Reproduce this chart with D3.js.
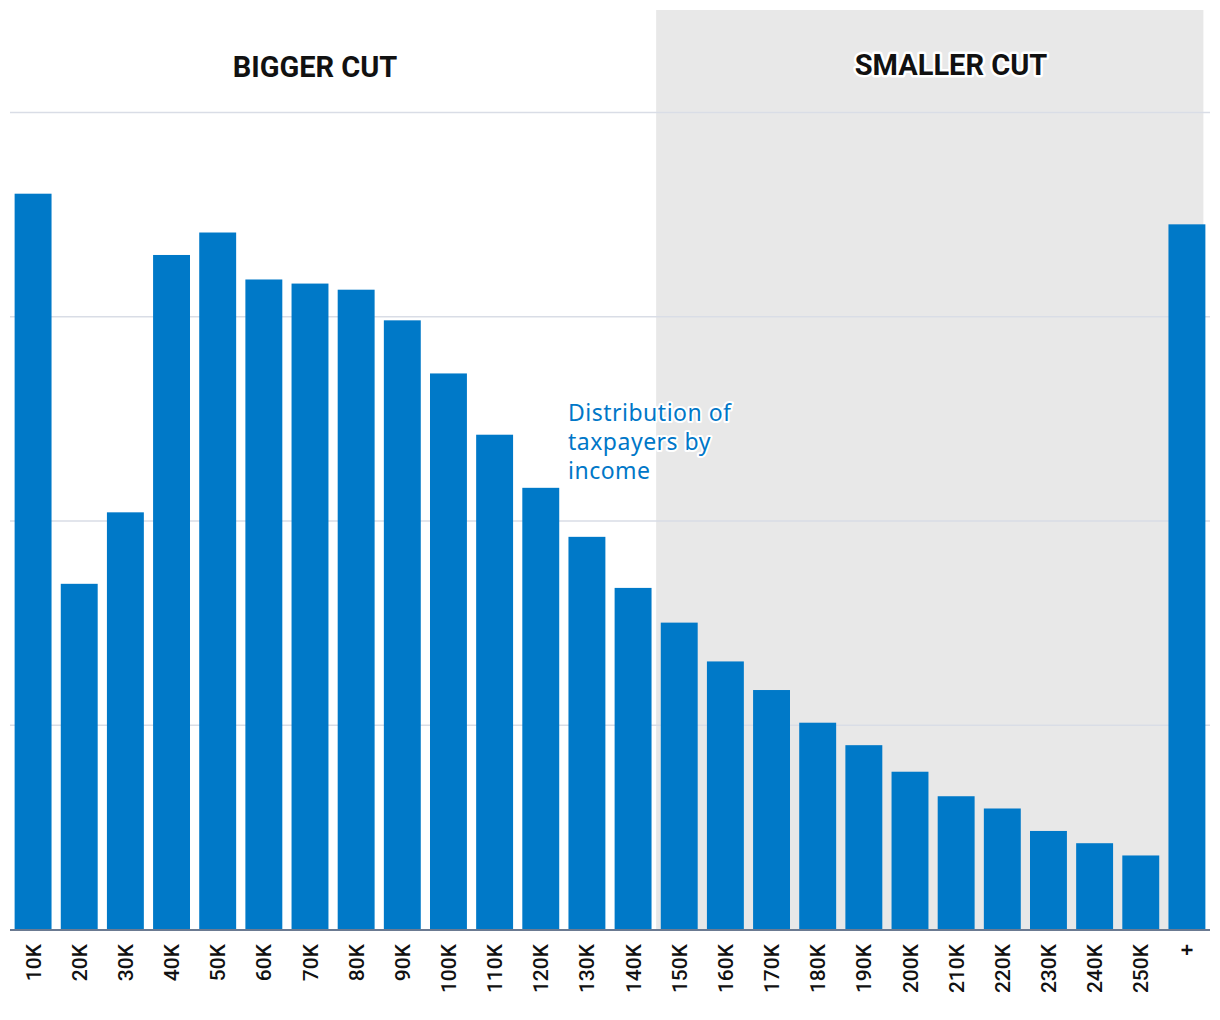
<!DOCTYPE html>
<html>
<head>
<meta charset="utf-8">
<script src="https://cdn.jsdelivr.net/npm/d3@7"></script>
<style>
  html, body { margin: 0; padding: 0; background: #fff; }
  svg { display: block; }
</style>
</head>
<body>
<svg id="chart" width="1220" height="1020"></svg>
<script>
const categories = ["10K","20K","30K","40K","50K","60K","70K","80K","90K","100K","110K","120K","130K","140K","150K","160K","170K","180K","190K","200K","210K","220K","230K","240K","250K","+"];
const values = [3.60,1.69,2.04,3.30,3.41,3.18,3.16,3.13,2.98,2.72,2.42,2.16,1.92,1.67,1.50,1.31,1.17,1.01,0.90,0.77,0.65,0.59,0.48,0.42,0.36,3.45];
const yTicks = [1,2,3,4];
const zoneLabels = ["BIGGER CUT", "SMALLER CUT"];
const smallerStart = "150K";
const annotationLines = ["Distribution of", "taxpayers by", "income"];

(function () {
const svg = d3.select("#chart");
const mLeft = 10, mRight = 1210, mTop = 112, mBottom = 929;

const x = d3.scaleBand().domain(categories).range([mLeft, mRight]).paddingInner(0.2).paddingOuter(0.1);
const y = d3.scaleLinear().domain([0, 4]).range([mBottom, mTop]);

// shaded region
const shadeX0 = x(smallerStart) - x.step() * x.paddingInner() / 2;
const shadeX1 = x(categories[categories.length - 1]) + x.bandwidth() - 2;
svg.append("rect")
  .attr("x", shadeX0).attr("y", 10)
  .attr("width", shadeX1 - shadeX0).attr("height", mBottom - 10)
  .attr("fill", "#e8e8e8");

// grid
svg.append("g").selectAll("line").data(yTicks).join("line")
  .attr("x1", mLeft).attr("x2", mRight)
  .attr("y1", d => y(d) + 0.5).attr("y2", d => y(d) + 0.5)
  .attr("stroke", "#d9dde6").attr("stroke-width", 1.5);

// zone labels
const zoneX = [ x("70K") + x.bandwidth() / 2 + 5, x("200K") + x.bandwidth() / 2 + 41 ];
svg.append("g").selectAll("text").data(zoneLabels).join("text")
  .attr("x", (d, i) => zoneX[i])
  .attr("y", (d, i) => i === 0 ? 77 : 75)
  .attr("text-anchor", "middle")
  .attr("font-family", "Roboto, 'Noto Sans', sans-serif")
  .attr("font-weight", 700)
  .attr("font-size", 29)
  .attr("fill", "#111")
  .attr("stroke", (d, i) => i === 1 ? "#fff" : "none")
  .attr("stroke-width", 5)
  .attr("stroke-linejoin", "round")
  .attr("paint-order", "stroke")
  .text(d => d);

// bars
svg.append("g").selectAll("rect").data(values).join("rect")
  .attr("x", (d, i) => x(categories[i]))
  .attr("width", x.bandwidth())
  .attr("y", d => y(d))
  .attr("height", d => mBottom - y(d))
  .attr("fill", "#0079c8");

// baseline
svg.append("line")
  .attr("x1", mLeft).attr("x2", mRight)
  .attr("y1", mBottom + 1).attr("y2", mBottom + 1)
  .attr("stroke", "#6b7a91").attr("stroke-width", 2);

// x labels
const xAxis = d3.axisBottom(x).tickSize(0).tickPadding(0);
const gx = svg.append("g").attr("transform", `translate(0,${mBottom})`).call(xAxis);
gx.select(".domain").remove();
gx.selectAll("text")
  .attr("font-family", "Roboto, 'Noto Sans', sans-serif")
  .attr("font-weight", 500)
  .attr("font-size", 21)
  .attr("fill", "#111")
  .attr("transform", "rotate(-90)")
  .attr("text-anchor", "end")
  .attr("dy", "0.36em")
  .attr("x", -15)
  .attr("y", 0);

// annotation
const ann = svg.append("text")
  .attr("x", 568).attr("y", 421)
  .attr("font-family", "'Noto Sans', 'Open Sans', sans-serif")
  .attr("font-size", 23)
  .attr("letter-spacing", 0.5)
  .attr("fill", "#0077c8")
  .attr("stroke", "#fff").attr("stroke-width", 4)
  .attr("stroke-linejoin", "round")
  .attr("paint-order", "stroke");
ann.selectAll("tspan").data(annotationLines).join("tspan")
  .attr("x", 568)
  .attr("dy", (d, i) => i === 0 ? 0 : 29)
  .text(d => d);
})();
</script>
</body>
</html>
